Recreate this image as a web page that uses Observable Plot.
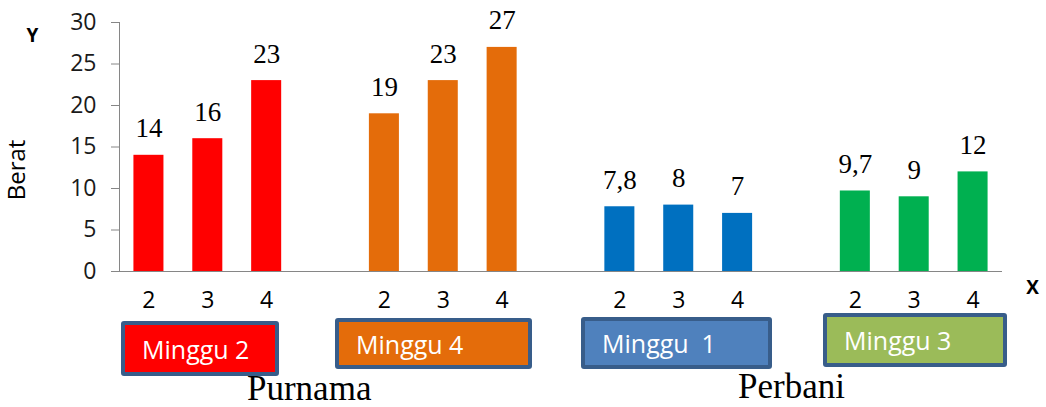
<!DOCTYPE html>
<html><head><meta charset="utf-8">
<script src="https://cdn.jsdelivr.net/npm/d3@7"></script>
<script src="https://cdn.jsdelivr.net/npm/@observablehq/plot@0.6"></script>
<style>
body{margin:0;background:#fff;}
#wrap{position:relative;width:1046px;height:407px;overflow:hidden;}
#wrap svg{position:absolute;left:0;top:0;}
.box{position:absolute;box-sizing:border-box;border:4px solid #385D8A;border-radius:3px;color:#fff;font-family:"Open Sans";font-size:25px;display:flex;align-items:center;white-space:pre;padding-left:17px;}
.cap{position:absolute;font-family:"Liberation Serif";font-size:35px;color:#000;line-height:1;white-space:pre;}
</style></head><body><div id="wrap"></div>
<script>
// ---- data ----
const groups = ["Minggu 2", "Minggu 4", "Minggu  1", "Minggu 3"];
const periods = ["Purnama", "Perbani"];
const weeks = ["2", "3", "4"];
const barColors = ["#FF0000", "#E46C0A", "#0070C0", "#00B050"];
const boxColors = ["#FF0000", "#E46C0A", "#4F81BD", "#9BBB59"];
const values = [[14, 16, 23], [19, 23, 27], [7.8, 8, 7], [9.7, 9, 12]];
const valueLabels = [["14", "16", "23"], ["19", "23", "27"], ["7,8", "8", "7"], ["9,7", "9", "12"]];
const yTicks = [0, 5, 10, 15, 20, 25, 30];

// ---- table ----
const rows = [];
const domain = [];
groups.forEach((g, i) => {
  weeks.forEach((w, j) => {
    const key = g + "|" + w;
    domain.push(key);
    rows.push({key, week: w, value: values[i][j], label: valueLabels[i][j], color: barColors[i]});
  });
  if (i < groups.length - 1) domain.push("gap" + i);
});

const axisGray = "#868686";
const chart = Plot.plot({
  width: 1046, height: 407,
  marginLeft: 119, marginRight: 44, marginTop: 22, marginBottom: 136,
  style: {background: "transparent"},
  x: {type: "band", domain, paddingInner: 0.49, paddingOuter: 0.245, round: false, axis: null},
  y: {domain: [0, 30], axis: null},
  color: {type: "identity"},
  marks: [
    Plot.barY(rows, {x: "key", y: "value", fill: "color"}),
    Plot.frame({anchor: "left", stroke: axisGray}),
    Plot.ruleY([0], {stroke: axisGray}),
    Plot.axisY(yTicks, {tickSize: 8, tickPadding: 15, stroke: axisGray, fill: "#1a1a1a", fontSize: 23, fontFamily: "Open Sans", label: null}),
    Plot.axisX(rows.map(d => d.key), {tickSize: 0, tickPadding: 20, tickFormat: d => d.split("|")[1], fill: "#000", fontSize: 23, fontFamily: "Open Sans", label: null}),
    Plot.text(rows, {x: "key", y: "value", text: "label", lineAnchor: "bottom", dy: -18, fontSize: 27, fontFamily: "Liberation Serif", fill: "#000"}),
    Plot.text(["Berat"], {text: d => d, frameAnchor: "left", textAnchor: "middle", lineAnchor: "middle", rotate: -90, dx: -102, dy: 23, fontSize: 24, fontFamily: "Open Sans", fill: "#000"}),
    Plot.text(["Y"], {text: d => d, frameAnchor: "top-left", textAnchor: "middle", lineAnchor: "middle", dx: -87, dy: 13, fontSize: 19, fontWeight: "bold", fontFamily: "Open Sans", fill: "#000"}),
    Plot.text(["X"], {text: d => d, frameAnchor: "bottom-right", textAnchor: "middle", lineAnchor: "middle", dx: 30, dy: 16, fontSize: 19, fontWeight: "bold", fontFamily: "Open Sans", fill: "#000"})
  ]
});
const wrap = document.getElementById("wrap");
wrap.appendChild(chart);

// ---- legend boxes & captions (layout) ----
const boxLayout = [
  {left: 121, top: 321, width: 158, height: 55},
  {left: 335, top: 318, width: 197, height: 51},
  {left: 581, top: 317, width: 191, height: 52},
  {left: 823, top: 313, width: 184, height: 54}
];
groups.forEach((g, i) => {
  const b = boxLayout[i];
  const el = document.createElement("div");
  el.className = "box";
  Object.assign(el.style, {left: b.left + "px", top: b.top + "px", width: b.width + "px", height: b.height + "px", background: boxColors[i]});
  el.textContent = g;
  wrap.appendChild(el);
});
const capLayout = [{left: 247, top: 371}, {left: 738, top: 369}];
periods.forEach((p, i) => {
  const el = document.createElement("div");
  el.className = "cap";
  el.style.left = capLayout[i].left + "px";
  el.style.top = capLayout[i].top + "px";
  el.textContent = p;
  wrap.appendChild(el);
});
</script></body></html>
